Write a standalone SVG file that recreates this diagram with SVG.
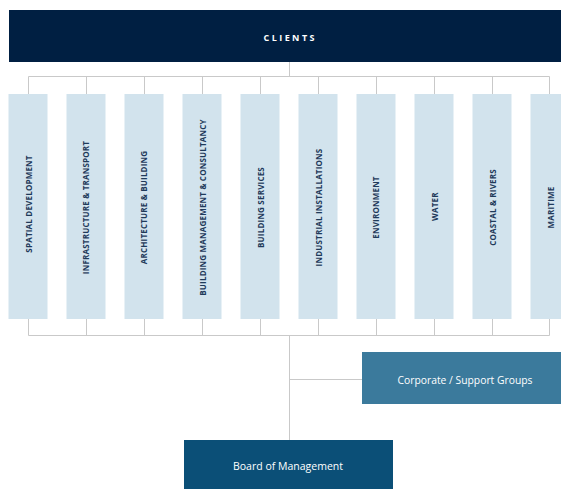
<svg xmlns="http://www.w3.org/2000/svg" width="561" height="489" viewBox="0 0 561 489">
<style>
.col{fill:#d2e3ed}
.ct{font-family:"Open Sans","Noto Sans",sans-serif;font-size:8px;font-weight:700;fill:#1f3a5a;text-anchor:middle;letter-spacing:0.2px}
.ln{stroke:#c9c9c9;stroke-width:1;fill:none}
.wt{font-family:"Open Sans","Noto Sans",sans-serif;fill:#ffffff;text-anchor:middle}
</style>
<rect width="561" height="489" fill="#ffffff"/>
<g id="connectors" class="ln">
<path d="M289.5 62V76.5M28.5 76.5H549.5"/>
<path d="M28.5 76.5V94M86.5 76.5V94M144.5 76.5V94M202.5 76.5V94M260.5 76.5V94M318.5 76.5V94M376.5 76.5V94M434.5 76.5V94M492.5 76.5V94M549.5 76.5V94"/>
<path d="M28.5 319V335.5M86.5 319V335.5M144.5 319V335.5M202.5 319V335.5M260.5 319V335.5M318.5 319V335.5M376.5 319V335.5M434.5 319V335.5M492.5 319V335.5M549.5 319V335.5M28.5 335.5H549.5"/>
<path d="M289.5 335.5V440M289.5 379.5H362"/>
</g>
<g id="clients">
<rect x="9" y="10" width="560" height="52" fill="#001f42"/>
<text class="wt" x="289" y="41" font-size="9" font-weight="700" textLength="51" lengthAdjust="spacing">CLIENTS</text>
</g>
<g id="spatial-development">
<rect class="col" x="8.5" y="94" width="39" height="225"/>
<text class="ct" transform="translate(29.5,204) rotate(-90)" y="2.9">SPATIAL DEVELOPMENT</text>
</g>
<g id="infrastructure-transport">
<rect class="col" x="66.5" y="94" width="39" height="225"/>
<text class="ct" transform="translate(86.5,207.5) rotate(-90)" y="2.9">INFRASTRUCTURE &amp; TRANSPORT</text>
</g>
<g id="architecture-building">
<rect class="col" x="124.5" y="94" width="39" height="225"/>
<text class="ct" transform="translate(144.5,207.5) rotate(-90)" y="2.9">ARCHITECTURE &amp; BUILDING</text>
</g>
<g id="building-management-consultancy">
<rect class="col" x="182.5" y="94" width="39" height="225"/>
<text class="ct" transform="translate(202.7,207.5) rotate(-90)" y="2.9">BUILDING MANAGEMENT &amp; CONSULTANCY</text>
</g>
<g id="building-services">
<rect class="col" x="240.5" y="94" width="39" height="225"/>
<text class="ct" transform="translate(261,207.5) rotate(-90)" y="2.9">BUILDING SERVICES</text>
</g>
<g id="industrial-installations">
<rect class="col" x="298.5" y="94" width="39" height="225"/>
<text class="ct" transform="translate(319,207.5) rotate(-90)" y="2.9">INDUSTRIAL INSTALLATIONS</text>
</g>
<g id="environment">
<rect class="col" x="356.5" y="94" width="39" height="225"/>
<text class="ct" transform="translate(376.5,207.5) rotate(-90)" y="2.9">ENVIRONMENT</text>
</g>
<g id="water">
<rect class="col" x="414.5" y="94" width="39" height="225"/>
<text class="ct" transform="translate(435,206.7) rotate(-90)" y="2.9">WATER</text>
</g>
<g id="coastal-rivers">
<rect class="col" x="472.5" y="94" width="39" height="225"/>
<text class="ct" transform="translate(492.7,207.5) rotate(-90)" y="2.9">COASTAL &amp; RIVERS</text>
</g>
<g id="maritime">
<rect class="col" x="530.5" y="94" width="39" height="225"/>
<text class="ct" transform="translate(551,207.5) rotate(-90)" y="2.9">MARITIME</text>
</g>
<g id="corporate-support-groups">
<rect x="362" y="352" width="210" height="52" fill="#3b7a9c"/>
<text class="wt" x="465" y="383.5" font-size="10.5" textLength="135" lengthAdjust="spacingAndGlyphs">Corporate / Support Groups</text>
</g>
<g id="board-of-management">
<rect x="184" y="440" width="209" height="60" fill="#0b4f77"/>
<text class="wt" x="288" y="470" font-size="10.5" textLength="110" lengthAdjust="spacingAndGlyphs">Board of Management</text>
</g>
</svg>
